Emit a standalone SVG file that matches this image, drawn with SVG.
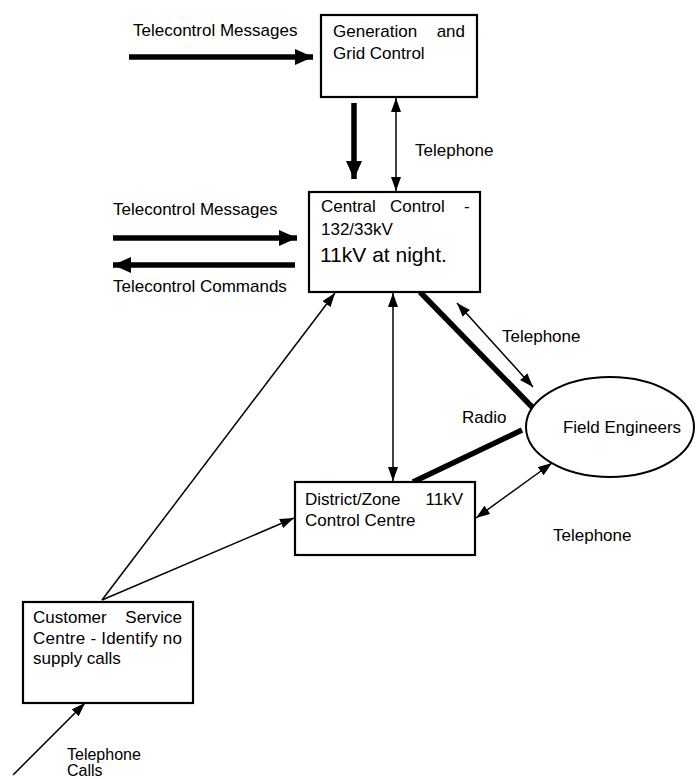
<svg xmlns="http://www.w3.org/2000/svg" width="699" height="779" viewBox="0 0 699 779">
  <style>
    text { font-family: "Liberation Sans", Arial, sans-serif; font-size: 17px; fill: #000; }
    .big { font-size: 21px; }
    .small { font-size: 16px; }
    .box { fill: #fff; stroke: #000; stroke-width: 2.2; }
    .thin { stroke: #000; stroke-width: 1.5; fill: none; }
    .thick { stroke: #000; stroke-width: 5.5; fill: none; }
    .one { marker-end: url(#headThin); }
    .two { marker-start: url(#headThin); marker-end: url(#headThin); }
    .fat { marker-end: url(#headThick); }
  </style>
  <defs>
    <marker id="headThin" markerUnits="userSpaceOnUse" markerWidth="14" markerHeight="10" refX="14" refY="5" orient="auto-start-reverse">
      <path d="M0,0 L14,5 L0,10 z" fill="#000"/>
    </marker>
    <marker id="headThick" markerUnits="userSpaceOnUse" markerWidth="18" markerHeight="16" refX="18" refY="8" orient="auto">
      <path d="M0,0 L18,8 L0,16 z" fill="#000"/>
    </marker>
  </defs>

  <rect width="699" height="779" fill="#fff"/>

  <!-- connectors -->
  <g id="connectors">
    <line class="thick fat" x1="129" y1="57" x2="313" y2="57"/>
    <line class="thick fat" x1="354" y1="103" x2="354" y2="179"/>
    <line class="thin two" x1="396" y1="98" x2="396" y2="191"/>
    <line class="thick fat" x1="113" y1="238" x2="297" y2="238"/>
    <line class="thick fat" x1="295" y1="265" x2="113" y2="265"/>
    <line class="thin two" x1="393" y1="293" x2="393" y2="481"/>
    <line class="thick" x1="420" y1="292" x2="535" y2="410"/>
    <line stroke="#000" stroke-width="2.5" x1="530" y1="415" x2="540" y2="405"/>
    <line class="thin two" x1="457" y1="303" x2="533" y2="387"/>
    <line class="thick" x1="522" y1="430" x2="413" y2="482"/>
    <line class="thin two" x1="476" y1="518" x2="552" y2="463"/>
    <line class="thin one" x1="102" y1="600" x2="335" y2="293"/>
    <line class="thin one" x1="102" y1="600" x2="294" y2="518"/>
    <line class="thin one" x1="13" y1="775" x2="85" y2="703"/>
  </g>

  <!-- connector labels -->
  <g id="labels">
    <text x="133" y="36">Telecontrol Messages</text>
    <text x="415" y="156">Telephone</text>
    <text x="113" y="215">Telecontrol Messages</text>
    <text x="113" y="292">Telecontrol Commands</text>
    <text x="502" y="342">Telephone</text>
    <text x="462" y="423">Radio</text>
    <text x="553" y="541">Telephone</text>
    <text class="small" x="67" y="760">Telephone</text>
    <text class="small" x="67" y="776">Calls</text>
  </g>

  <g id="generation">
    <rect class="box" x="321" y="15" width="156" height="82"/>
    <text x="333" y="37">Generation</text>
    <text x="465" y="37" text-anchor="end">and</text>
    <text x="333" y="59">Grid Control</text>
  </g>

  <g id="central">
    <rect class="box" x="309" y="192" width="171" height="100"/>
    <text x="321" y="212">Central</text>
    <text x="390" y="212">Control</text>
    <text x="464" y="212">-</text>
    <text x="321" y="235">132/33kV</text>
    <text class="big" x="320" y="262">11kV at night.</text>
  </g>

  <g id="district">
    <rect class="box" x="295" y="482" width="180" height="73"/>
    <text x="305" y="505">District/Zone</text>
    <text x="463" y="505" text-anchor="end">11kV</text>
    <text x="305" y="526">Control Centre</text>
  </g>

  <g id="field">
    <ellipse cx="610" cy="427" rx="84" ry="50" fill="#fff" stroke="#000" stroke-width="2"/>
    <text x="622" y="433" text-anchor="middle">Field Engineers</text>
  </g>

  <g id="customer">
    <rect class="box" x="23" y="602" width="170" height="101"/>
    <text x="33" y="623">Customer</text>
    <text x="182" y="623" text-anchor="end">Service</text>
    <text x="33" y="644" textLength="149" lengthAdjust="spacing">Centre - Identify no</text>
    <text x="33" y="664">supply calls</text>
  </g>
</svg>
